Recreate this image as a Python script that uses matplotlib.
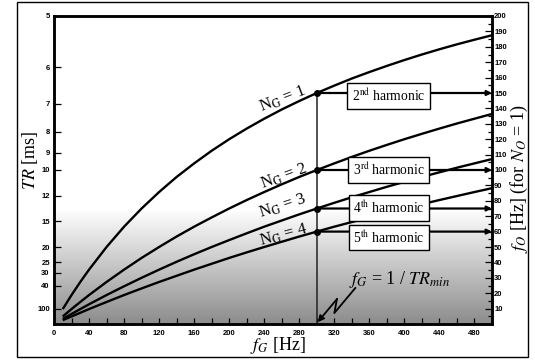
import matplotlib
matplotlib.use("Agg")
import matplotlib.pyplot as plt
import numpy as np
from matplotlib.patches import Rectangle

plt.rcParams['mathtext.fontset'] = 'stix'

# ---------------- data ----------------
FG = [10, 20, 30, 40, 60, 80, 100, 120, 140, 160, 180, 200, 220, 240, 260,
      280, 300, 320, 340, 360, 380, 400, 420, 440, 460, 480, 500]
FO_NG1 = [9.7, 18.8, 27.3, 35.3, 50.0, 63.2, 75.0, 85.7, 95.5, 104.3, 112.5,
          120.0, 126.9, 133.3, 139.3, 144.8, 150.0, 154.8, 159.4, 163.6, 167.6,
          171.4, 175.0, 178.4, 181.6, 184.6, 187.5]
FO_NG2 = [4.9, 9.7, 14.3, 18.8, 27.3, 35.3, 42.9, 50.0, 56.8, 63.2, 69.2,
          75.0, 80.5, 85.7, 90.7, 95.5, 100.0, 104.3, 108.5, 112.5, 116.3,
          120.0, 123.5, 126.9, 130.2, 133.3, 136.4]
FO_NG3 = [3.3, 6.5, 9.7, 12.8, 18.8, 24.5, 30.0, 35.3, 40.4, 45.3, 50.0,
          54.5, 58.9, 63.2, 67.2, 71.2, 75.0, 78.7, 82.3, 85.7, 89.1,
          92.3, 95.5, 98.5, 101.5, 104.3, 107.1]
FO_NG4 = [2.5, 4.9, 7.3, 9.7, 14.3, 18.8, 23.1, 27.3, 31.3, 35.3, 39.1,
          42.9, 46.5, 50.0, 53.4, 56.8, 60.0, 63.2, 66.2, 69.2, 72.2,
          75.0, 77.8, 80.5, 83.1, 85.7, 88.2]
CURVES = [FO_NG1, FO_NG2, FO_NG3, FO_NG4]
CURVE_LABELS = ["N$_{\\mathrm{G}}$ = 1", "N$_{\\mathrm{G}}$ = 2",
                "N$_{\\mathrm{G}}$ = 3", "N$_{\\mathrm{G}}$ = 4"]
LABEL_POS = [(261, 146), (262, 96), (261, 76.5), (262, 57.8)]
LABEL_ROT = [21, 20, 18, 15]

FG_MIN = 300                      # f_G = 1/TR_min
HARMONIC_FO = [150, 100, 75, 60]
HARMONIC_TXT = ["2$^{\\mathrm{nd}}$ harmonic", "3$^{\\mathrm{rd}}$ harmonic",
                "4$^{\\mathrm{th}}$ harmonic", "5$^{\\mathrm{th}}$ harmonic"]
HARMONIC_BOX_Y = [148, 100, 75.3, 56.2]
HARMONIC_BOX_X = 382

TR_TICKS = [5, 6, 7, 8, 9, 10, 12, 15, 20, 25, 30, 40, 100]   # ms
FO_TICKS = list(range(10, 201, 10))
X_TICKS = list(range(0, 481, 40))

# ---------------- figure ----------------
W, H = 535, 360
fig = plt.figure(figsize=(W / 100, H / 100), dpi=100)
fig.add_artist(Rectangle((17 / W, 3 / H), 511 / W, 355 / H, transform=fig.transFigure,
                         fill=False, lw=1.0, ec='black'))

ax = fig.add_axes([54 / W, 36 / H, 438 / W, 308 / H])

# gradient background at the bottom
grad = np.linspace(0.55, 1.0, 256).reshape(-1, 1)
ax.imshow(grad, cmap='gray', vmin=0, vmax=1, origin='lower', aspect='auto',
          extent=(0, 500, 0, 75), zorder=0, interpolation='bilinear')

for fo in CURVES:
    ax.plot(FG, fo, color='black', lw=1.7, zorder=3, solid_capstyle='butt')

serif = 'Liberation Serif'
for lab, (x, y), rot in zip(CURVE_LABELS, LABEL_POS, LABEL_ROT):
    ax.text(x, y, lab, rotation=rot, ha='center', va='center', fontsize=12,
            family=serif, rotation_mode='anchor', zorder=5)

# vertical line at f_G = 1/TR_min
ax.plot([FG_MIN, FG_MIN], [0, max(HARMONIC_FO)], color='#222222', lw=1.1, zorder=3)

for fo in HARMONIC_FO:
    ax.annotate('', xy=(500, fo), xytext=(FG_MIN, fo),
                arrowprops=dict(arrowstyle='-|>', lw=1.6, color='black',
                                mutation_scale=7, shrinkA=0, shrinkB=0),
                zorder=3)
    ax.plot([FG_MIN], [fo], 'o', color='black', ms=4, zorder=4)

for txt, y in zip(HARMONIC_TXT, HARMONIC_BOX_Y):
    ax.text(HARMONIC_BOX_X, y, txt, ha='center', va='center', fontsize=9.8,
            family=serif, zorder=6,
            bbox=dict(boxstyle='square,pad=0.32', fc='white', ec='black', lw=1.0))

# f_G = 1/TR_min annotation with zigzag arrow
ZIG = [(344, 23.4), (320, 7.1), (323, 16.2)]
ax.plot([p[0] for p in ZIG], [p[1] for p in ZIG], color='black', lw=1.3, zorder=4)
ax.annotate('', xy=(301, 1.2), xytext=ZIG[-1],
            arrowprops=dict(arrowstyle='-|>', lw=1.3, color='black',
                            mutation_scale=9, shrinkA=0, shrinkB=0), zorder=4)
ax.text(337, 26, "$f_G$ = 1 / $TR_{min}$", fontsize=13, family=serif,
        ha='left', va='baseline', zorder=5)

ax.set_xlim(0, 500)
ax.set_ylim(0, 200)

# x axis
ax.set_xticks(X_TICKS)
ax.set_xticks(range(0, 500, 20), minor=True)
ax.tick_params(axis='x', which='major', direction='in', length=4, width=0.9,
               labelsize=5.5, pad=4)
ax.tick_params(axis='x', which='minor', direction='in', length=4, width=0.9)
for lbl in ax.get_xticklabels():
    lbl.set_fontweight('bold')
    lbl.set_family('Liberation Sans')

# left axis: TR [ms]
ax.set_yticks([1000 / t for t in TR_TICKS])
ax.set_yticklabels([str(t) for t in TR_TICKS])
ax.tick_params(axis='y', which='major', direction='in', length=5, width=0.9,
               labelsize=5.5, pad=3)
for lbl in ax.get_yticklabels():
    lbl.set_fontweight('bold')
    lbl.set_family('Liberation Sans')

# right axis: f_O
axr = ax.twinx()
axr.set_ylim(0, 200)
axr.set_yticks(FO_TICKS)
axr.set_yticks(range(5, 200, 10), minor=True)
axr.tick_params(axis='y', which='major', direction='in', length=5, width=0.9,
                labelsize=5.5, pad=1.5)
axr.tick_params(axis='y', which='minor', direction='in', length=3, width=0.9)
for lbl in axr.get_yticklabels():
    lbl.set_fontweight('bold')
    lbl.set_family('Liberation Sans')

for a in (ax, axr):
    for s in a.spines.values():
        s.set_linewidth(1.8)

ax.set_xlabel("$f_G$ [Hz]", fontsize=13, family=serif)
ax.xaxis.set_label_coords(0.51, -0.037)
ax.set_ylabel("$TR$ [ms]", fontsize=13, family=serif)
ax.yaxis.set_label_coords(-0.033, 0.53)
axr.set_ylabel("$f_O$ [Hz] (for $N_O$ = 1)", fontsize=13, family=serif,
               rotation=90)
axr.yaxis.set_label_coords(1.039, 0.47)

fig.savefig("out.png", dpi=100)
